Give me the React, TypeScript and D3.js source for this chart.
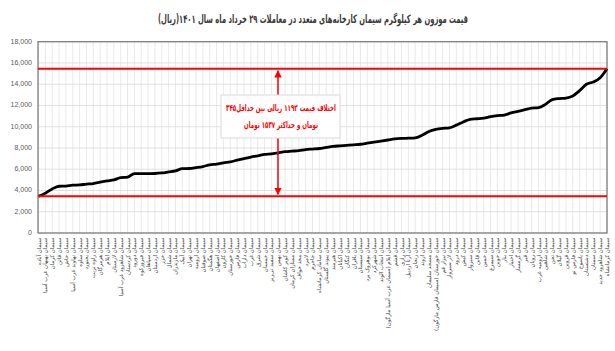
import React from "react";
import * as d3 from "d3";

const title = "قیمت موزون هر کیلوگرم سیمان کارخانه‌های متعدد در معاملات ۲۹ خرداد ماه سال ۱۴۰۱(ریال)";
const noteLine1 = "اختلاف قیمت ۱۱۹۲ ریالی بین حداقل۳۴۵";
const noteLine2 = "تومان و حداکثر ۱۵۳۷ تومان";

const categories = [
  "سیمان آباده", "سیمان بهبهان غرب آسیا", "سیمان کرمان", "سیمان قائن", "سیمان خاش",
  "سیمان نهاوند غرب آسیا", "سیمان ساوه", "سیمان بجنورد", "سیمان زاوه تربت", "سیمان هرمزگان",
  "سیمان ایلام", "سیمان لارستان", "سیمان شاهرود غرب آسیا", "سیمان کردستان", "سیمان دورود",
  "سیمان فیروزکوه", "سیمان سپاهان", "سیمان اردستان", "سیمان خزر", "سیمان شمال",
  "سیمان مازندران", "سیمان آبیک", "سیمان تهران", "سیمان ارومیه", "سیمان صوفیان",
  "سیمان هگمتان", "سیمان اصفهان", "سیمان کارون", "سیمان خوزستان", "سیمان فارس",
  "سیمان داراب", "سیمان غرب", "سیمان شرق", "سیمان خمسان", "سیمان سفید نی‌ریز",
  "سیمان بهمن", "سیمان کویر کاشان", "سیمان ممتازان کرمان", "سیمان مجد خواف", "سیمان لامرد",
  "سیمان جاجرم", "سیمان سامان کرمانشاه", "سیمان پیوند گلستان", "سیمان هیرمند", "سیمان اکباتان",
  "سیمان کنگان", "سیمان باقران", "سیمان سیستان", "سیمان بوهروک یزد", "سیمان شهرکرد",
  "سیمان انتخاب الوند", "سیمان ایلام (سیمان غرب آسیا مارگون)", "سیمان قشم", "سیمان رازی", "سیمان آرتا اردبیل",
  "سیمان زنجان", "سیمان اروند", "سیمان مسجد سلیمان", "سیمان خوزستان (سیمان فارس مارگون)", "سیمان نیزار قم",
  "سیمان لار سبزوار", "سیمان درود", "سیمان کیش", "سیمان سبزوار", "سیمان قاین",
  "سیمان خمین", "سیمان سیمرغ", "سیمان جوین", "سیمان بنار", "سیمان اختیار",
  "سیمان گرمسار", "سیمان قیر", "سیمان رویان", "سیمان ارومیه غرب", "سیمان شاهین",
  "سیمان تجن", "سیمان گیلان", "سیمان قزوین", "سیمان فارس نو", "سیمان یاسوج",
  "سیمان دشتستان", "سیمان سمنان", "سیمان شاهرود جدید", "سیمان کرمانشاه",
];

const prices = [
  3450, 3750, 4150, 4400, 4420, 4500, 4520, 4600, 4650, 4780,
  4900, 5000, 5200, 5250, 5580, 5580, 5590, 5600, 5650, 5750,
  5850, 6050, 6070, 6150, 6250, 6420, 6480, 6600, 6700, 6850,
  7000, 7150, 7250, 7400, 7450, 7550, 7650, 7700, 7750, 7850,
  7900, 7950, 8050, 8150, 8200, 8250, 8300, 8350, 8450, 8550,
  8650, 8750, 8850, 8900, 8920, 8950, 9200, 9550, 9750, 9850,
  9900, 10150, 10450, 10700, 10750, 10800, 10950, 11050, 11100, 11300,
  11450, 11600, 11750, 11800, 12100, 12550, 12650, 12700, 12900, 13400,
  14000, 14200, 14600, 15450,
];

const yTicks = [0, 2000, 4000, 6000, 8000, 10000, 12000, 14000, 16000, 18000];
const minLine = 3450;
const maxLine = 15450;

const W = 615;
const H = 351;
const L = 38;
const R = 607;
const T = 41.7;
const B = 233;

export default function App() {
  const idx = d3.range(categories.length);
  const x = d3.scalePoint<number>().domain(idx).range([L + 0.5, R]);
  const y = d3.scaleLinear().domain([0, 18000]).range([B, T]);
  const line = d3
    .line<number>()
    .x((_, i) => x(i) as number)
    .y((d) => y(d))
    .curve(d3.curveMonotoneX);
  const fmt = d3.format(",");
  const arrowX = 278;
  const persian = "DejaVu Sans";

  return (
    <svg
      width={W}
      height={H}
      style={{ position: "fixed", left: 0, top: 0, background: "#fff" }}
    >
      <defs>
        <marker id="ah" viewBox="0 0 10 10" refX="9" refY="5" markerWidth="5" markerHeight="5" orient="auto-start-reverse">
          <path d="M0,0 L10,5 L0,10 z" fill="#ff0000" />
        </marker>
      </defs>
      <rect x={0} y={0} width={W} height={H} fill="#fff" />
      <text
        x={313}
        y={23}
        textAnchor="middle"
        direction="rtl"
        fontFamily={persian}
        fontWeight="bold"
        fontSize={11.5}
        textLength={310}
        lengthAdjust="spacingAndGlyphs"
        fill="#3a3a3a"
      >
        {title}
      </text>

      {idx.map((i) => (
        <line key={"v" + i} x1={x(i)} x2={x(i)} y1={T} y2={B} stroke="#e3e3e3" strokeWidth={0.8} />
      ))}
      {yTicks.map((t) => (
        <line key={"h" + t} x1={L} x2={R} y1={y(t)} y2={y(t)} stroke="#d9d9d9" strokeWidth={0.8} />
      ))}
      <rect x={L} y={T} width={R - L} height={B - T} fill="none" stroke="#7f7f7f" strokeWidth={1.3} />

      {yTicks.map((t) => (
        <text
          key={"yt" + t}
          x={32}
          y={y(t)}
          textAnchor="end"
          dominantBaseline="middle"
          fontFamily="Liberation Sans, Arial, sans-serif"
          fontSize={7}
          fill="#595959"
        >
          {fmt(t)}
        </text>
      ))}

      {categories.map((c, i) => (
        <text
          key={"xl" + i}
          transform={`translate(${(x(i) as number) + 2},${B + 5}) rotate(-90)`}
          direction="rtl"
          textAnchor="start"
          fontFamily={persian}
          fontSize={5.5}
          fill="#404040"
        >
          {c}
        </text>
      ))}

      <path d={line(prices) || ""} fill="none" stroke="#000" strokeWidth={2.8} strokeLinejoin="round" />

      <line x1={L} x2={R} y1={y(maxLine)} y2={y(maxLine)} stroke="#ff0000" strokeWidth={2} />
      <line x1={L} x2={R} y1={y(minLine)} y2={y(minLine)} stroke="#ff0000" strokeWidth={2} />
      <line
        x1={arrowX}
        x2={arrowX}
        y1={y(maxLine) + 2}
        y2={y(minLine) - 2}
        stroke="#ff0000"
        strokeWidth={1.5}
        markerStart="url(#ah)"
        markerEnd="url(#ah)"
      />

      <rect x={221} y={95} width={119} height={43} fill="#fff" stroke="#d9d9d9" strokeWidth={1} />
      <text
        x={281}
        y={111}
        textAnchor="middle"
        direction="rtl"
        fontFamily={persian}
        fontWeight="bold"
        fontSize={9}
        textLength={110}
        lengthAdjust="spacingAndGlyphs"
        fill="#ff0000"
      >
        {noteLine1}
      </text>
      <text
        x={281}
        y={128}
        textAnchor="middle"
        direction="rtl"
        fontFamily={persian}
        fontWeight="bold"
        fontSize={9}
        textLength={74}
        lengthAdjust="spacingAndGlyphs"
        fill="#ff0000"
      >
        {noteLine2}
      </text>
    </svg>
  );
}
